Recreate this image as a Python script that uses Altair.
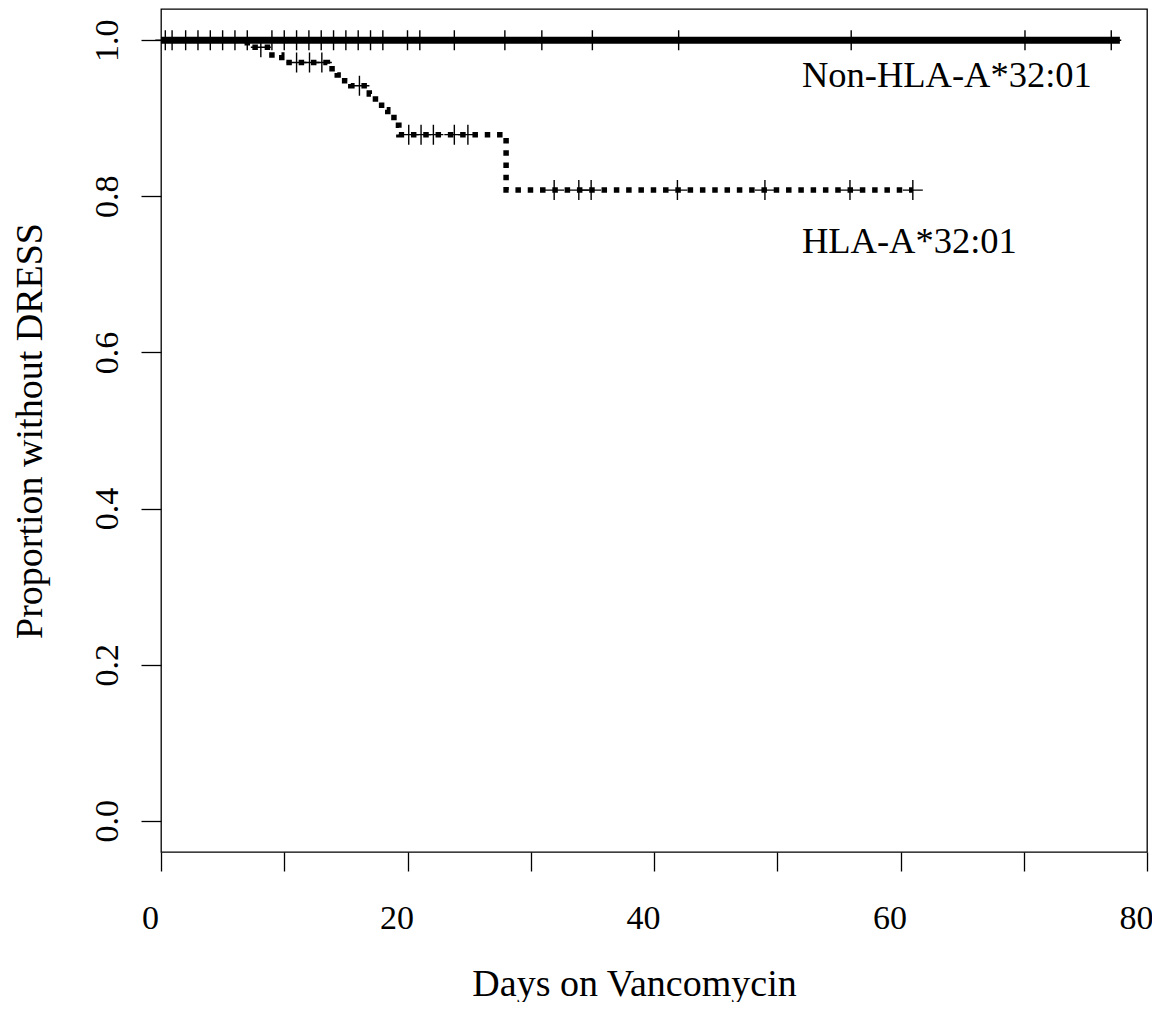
import altair as alt
import pandas as pd

# ---------------- data ----------------
# Non-HLA-A*32:01 group: no events, survival stays at 1.0
non_line_days = [0.0, 77.8]
non_line_surv = [1.0, 1.0]
non_censor_days = [0.35, 0.9, 2.0, 3.0, 4.0, 5.0, 6.0, 7.0, 9.0, 10.0, 11.0, 12.0,
                   13.0, 14.0, 15.0, 16.0, 17.0, 18.0, 20.0, 21.0, 23.8, 27.9, 30.9,
                   35.0, 42.0, 56.0, 70.1, 77.1]

# HLA-A*32:01 group: Kaplan-Meier steps (event day, survival after event)
hla_event_days = [7.0, 9.0, 9.8, 13.5, 14.3, 14.9, 15.4, 16.9, 17.4, 17.9, 18.4,
                  18.9, 19.3, 28.0]
hla_event_surv = [0.991, 0.981, 0.9715, 0.9635, 0.9555, 0.948, 0.9416, 0.931, 0.921,
                  0.911, 0.901, 0.891, 0.879, 0.808]
hla_end_day = 61.0
hla_censor_days = [8.1, 11.0, 12.05, 13.05, 16.1, 20.1, 21.1, 22.1, 23.8, 24.9, 31.9,
                   33.9, 34.9, 41.9, 49.0, 55.9, 61.0]

label_text = ["Non-HLA-A*32:01", "HLA-A*32:01"]
label_day = [52.0, 52.0]
label_surv = [0.94, 0.728]

x_ticks = [0, 10, 20, 30, 40, 50, 60, 70, 80]
y_ticks = [0.0, 0.2, 0.4, 0.6, 0.8, 1.0]

FONT = "Liberation Serif"

# ---------------- build tables ----------------
def hla_surv_at(t):
    s = 1.0
    for d, v in zip(hla_event_days, hla_event_surv):
        if d <= t:
            s = v
    return s

path = [(0.0, 1.0)]
prev = 1.0
for d, v in zip(hla_event_days, hla_event_surv):
    path.append((d, prev))
    path.append((d, v))
    prev = v
path.append((hla_end_day, prev))
hla_df = pd.DataFrame({"day": [p[0] for p in path], "surv": [p[1] for p in path],
                       "idx": list(range(len(path)))})

non_df = pd.DataFrame({"day": non_line_days, "surv": non_line_surv, "idx": [0, 1]})

censor_df = pd.DataFrame({
    "day": non_censor_days + hla_censor_days,
    "surv": [1.0] * len(non_censor_days) + [hla_surv_at(t) for t in hla_censor_days],
})

label_df = pd.DataFrame({"text": label_text, "day": label_day, "surv": label_surv})

# ---------------- encodings ----------------
xenc = alt.X("day:Q",
             scale=alt.Scale(domain=[0, 80], nice=False, zero=False),
             axis=alt.Axis(values=x_ticks, format="d",
                           labelExpr="datum.value % 20 === 0 ? datum.label : ''",
                           title="Days on Vancomycin", tickSize=19,
                           labelPadding=30, labelBaseline="top", labelFlush=False,
                           labelOffset=-11, labelOverlap=False, titlePadding=30,
                           titleX=473))
yenc = alt.Y("surv:Q",
             scale=alt.Scale(domain=[-0.04, 1.04], nice=False, zero=False),
             axis=alt.Axis(values=y_ticks, format=".1f",
                           title="Proportion without DRESS", tickSize=20,
                           labelAngle=270, labelAlign="center",
                           labelBaseline="alphabetic", labelPadding=23.5,
                           labelOverlap=False, titlePadding=41))

hla_line = alt.Chart(hla_df).mark_line(
    color="black", strokeWidth=5.5, strokeDash=[5.5, 6.8], strokeCap="butt",
    interpolate="linear"
).encode(x=xenc, y=yenc, order="idx:Q")

non_line = alt.Chart(non_df).mark_line(
    color="black", strokeWidth=7, strokeCap="butt"
).encode(x=xenc, y=yenc, order="idx:Q")

censor = alt.Chart(censor_df).mark_point(
    shape="M-1,0H1M0,-1V1", size=400, filled=False, stroke="black",
    strokeWidth=1.4, opacity=1
).encode(x=xenc, y=yenc)

labels = alt.Chart(label_df).mark_text(
    align="left", baseline="alphabetic", font=FONT, fontSize=36.5, color="black"
).encode(x=xenc, y=yenc, text="text:N")

chart = alt.layer(hla_line, non_line, censor, labels).properties(
    width=986, height=843,
    autosize=alt.AutoSizeParams(type="none"),
    padding={"left": 153, "top": 1, "right": 5, "bottom": 150},
    background="white",
).configure_view(
    stroke="black", strokeWidth=1.3
).configure_axis(
    grid=False, domain=False, tickColor="black", tickWidth=1.3,
    labelFont=FONT, labelFontSize=34, labelColor="black",
    titleFont=FONT, titleFontSize=38, titleFontWeight="normal", titleColor="black",
)

chart.save("out.html", embed_options={"renderer": "svg", "actions": False})
